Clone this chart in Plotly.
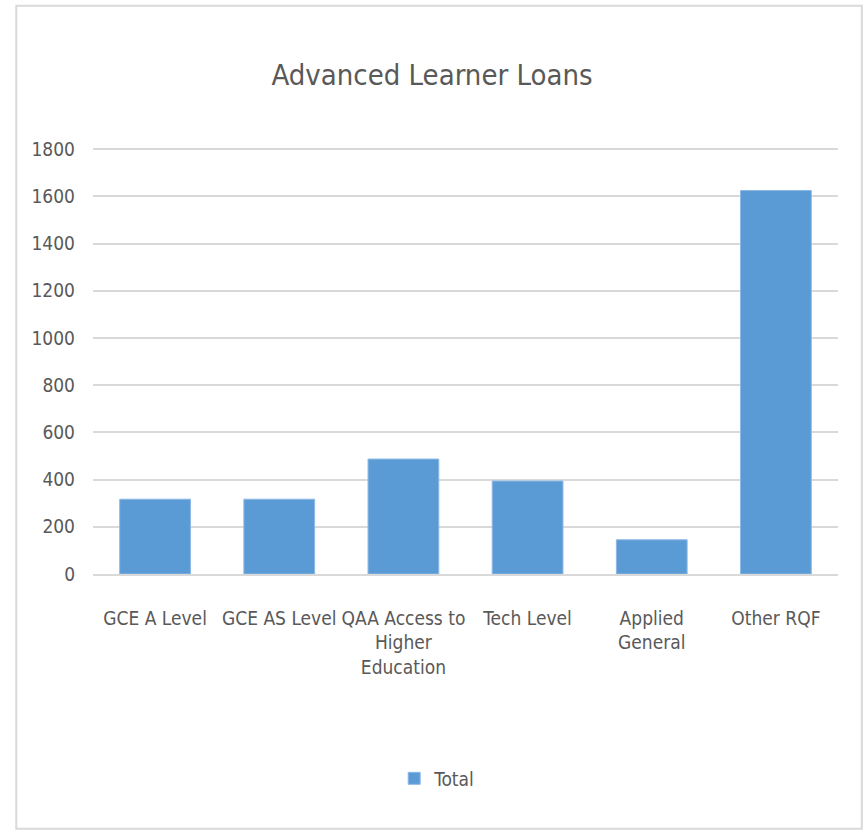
import plotly.graph_objects as go

# -------------------- Data --------------------
categories = [
    "GCE A Level",
    "GCE AS Level",
    "QAA Access to<br>Higher<br>Education",
    "Tech Level",
    "Applied<br>General",
    "Other RQF",
]
totals = [317, 317, 487, 394, 145, 1625]
y_ticks = [0, 200, 400, 600, 800, 1000, 1200, 1400, 1600, 1800]

FONT = "DejaVu Sans Condensed, Liberation Sans Narrow, Liberation Sans, sans-serif"
TEXT = "#595959"
GRID = "#d9d9d9"
BLUE = "#5b9bd5"

fig = go.Figure()
fig.add_trace(go.Bar(
    x=categories,
    y=totals,
    name="Total",
    marker=dict(color=BLUE, line=dict(color="#8db9e6", width=1)),
))

fig.update_layout(
    width=864,
    height=830,
    paper_bgcolor="white",
    plot_bgcolor="white",
    margin=dict(l=93, r=26, t=148, b=256),
    font=dict(family=FONT, color=TEXT, size=19),
    title=dict(
        text="Advanced Learner Loans",
        x=0.5, xanchor="center",
        y=0.91, yref="container", yanchor="middle",
        font=dict(size=29, color=TEXT),
    ),
    bargap=0.43,
    showlegend=True,
    legend=dict(
        orientation="h",
        x=0.462, xanchor="center",
        y=-0.48, yanchor="middle",
        font=dict(size=19, color=TEXT),
    ),
)

# range a touch above 1800 so the top gridline is still drawn
fig.update_yaxes(
    range=[0, 1805],
    tickvals=y_ticks,
    showgrid=True, gridcolor=GRID, gridwidth=1.5,
    zeroline=False, showline=False,
    ticks="", ticklabelstandoff=17,
    fixedrange=True,
)
fig.update_xaxes(
    showline=True, linecolor=GRID, linewidth=1.5,
    showgrid=False, ticks="",
    tickangle=0, ticklabelstandoff=26,
    fixedrange=True,
)

# outer chart border
fig.add_shape(
    type="rect", xref="paper", yref="paper",
    x0=-0.103, x1=1.032, y0=-0.598, y1=1.334,
    line=dict(color=GRID, width=2),
    fillcolor="rgba(0,0,0,0)", layer="below",
)

# drop the default body margin so the figure sits at the window's origin
fig.write_html(
    "out.html",
    config={"displayModeBar": False},
    post_script="document.body.style.margin='0';",
)
